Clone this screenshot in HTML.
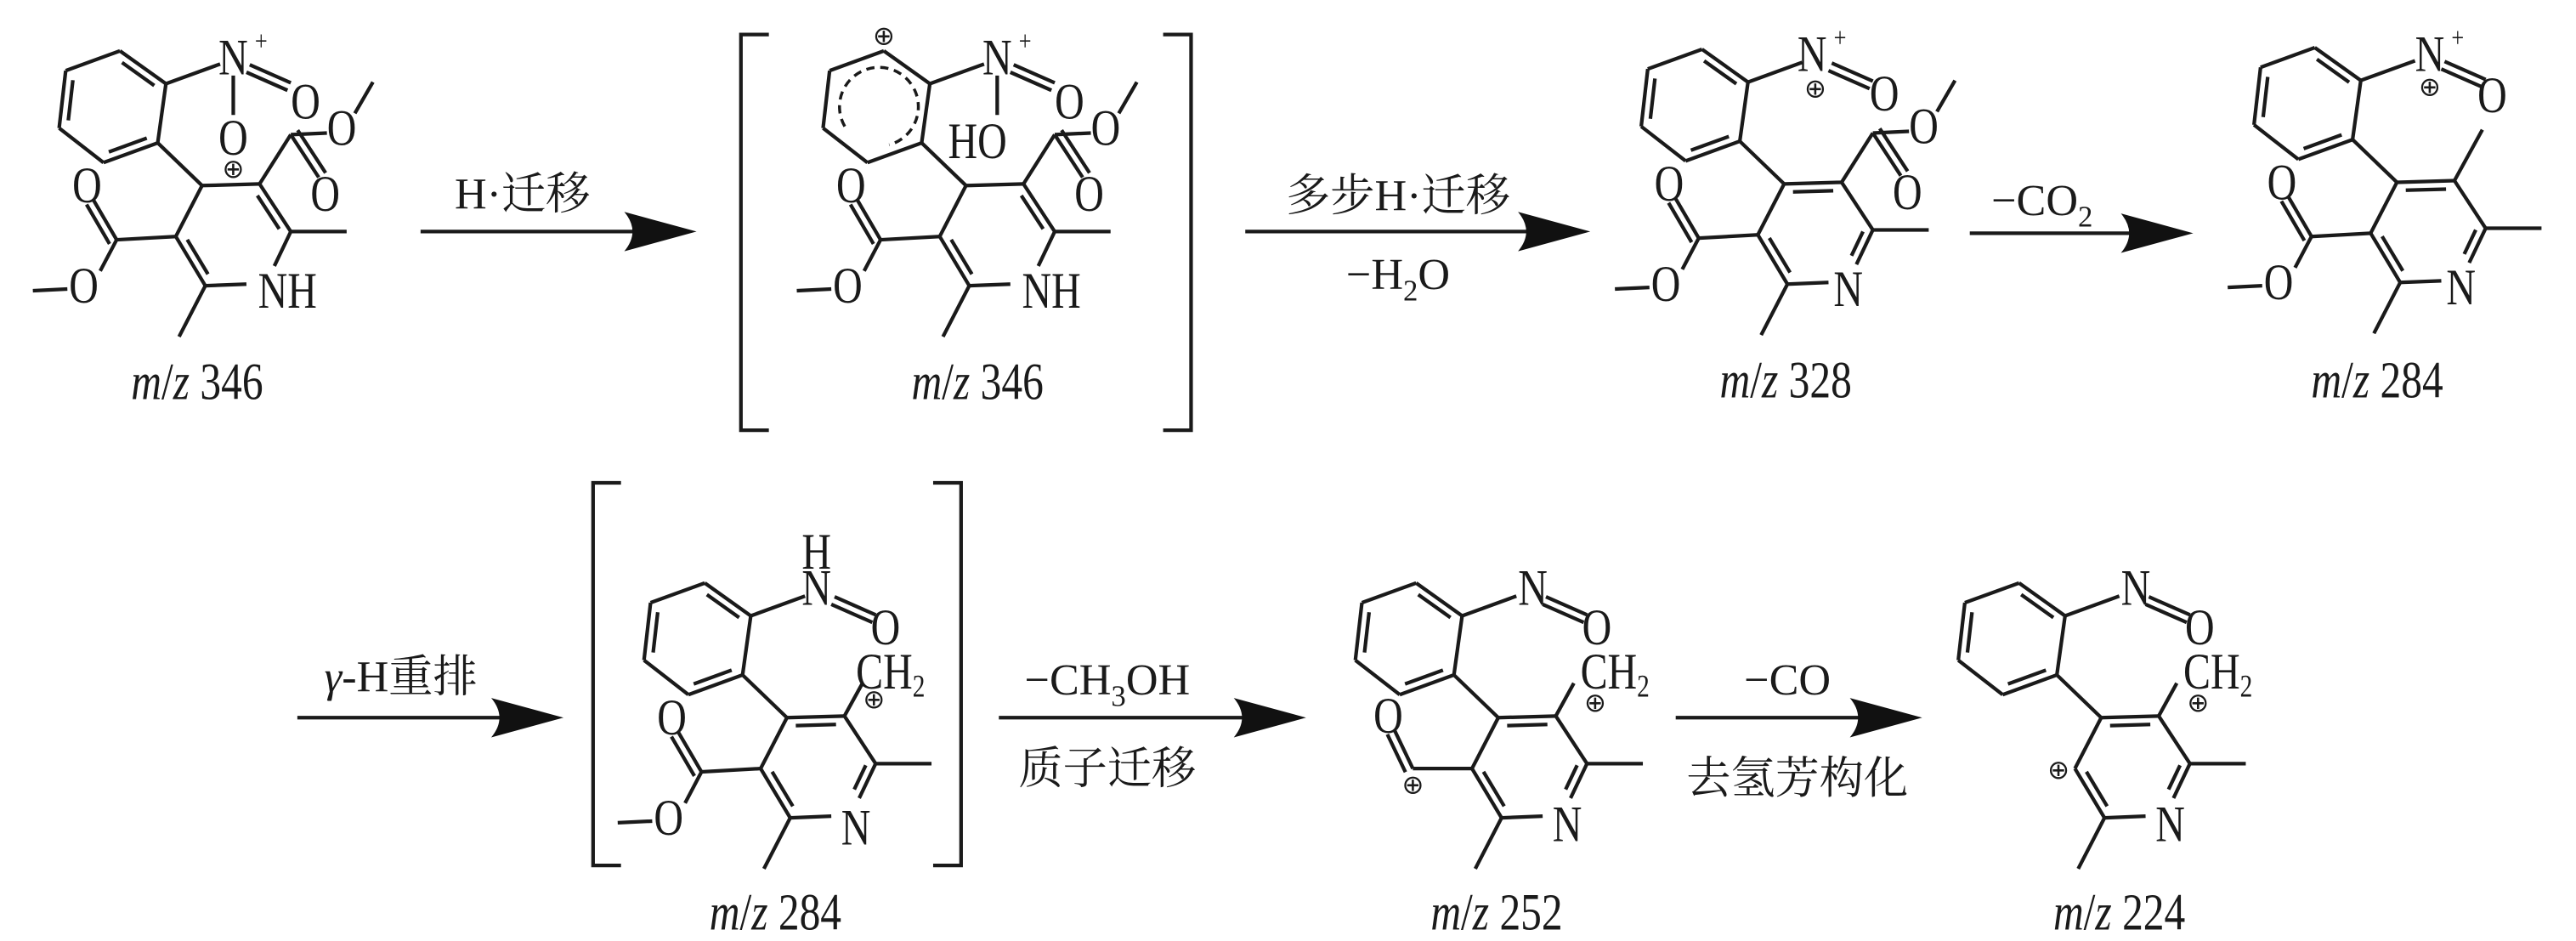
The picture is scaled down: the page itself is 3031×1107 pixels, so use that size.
<!DOCTYPE html>
<html><head><meta charset="utf-8">
<style>
html,body{margin:0;padding:0;background:#fff;}
svg{display:block;}
text{font-family:"Liberation Serif","Noto Serif CJK SC","Noto Sans CJK SC",serif;fill:#1a1a1a;}
.a{font-size:31px;text-anchor:middle;dominant-baseline:central;}
.c{font-size:16px;text-anchor:middle;dominant-baseline:central;font-family:"DejaVu Sans",sans-serif;}
.p{font-size:17px;text-anchor:middle;dominant-baseline:central;}
.m{font-size:32px;text-anchor:middle;}
.l{font-size:27px;text-anchor:middle;}
</style></head><body>
<svg id="s" width="3031" height="1107" viewBox="0 0 1568 573" preserveAspectRatio="none" xmlns="http://www.w3.org/2000/svg">
<g id="g" stroke="#1a1a1a" stroke-width="2.2" fill="none" stroke-linecap="butt"></g>

<!-- S1 -->
<text class="a" x="142" y="35">N</text><text class="p" x="159" y="25">+</text>
<text class="a" x="186" y="62">O</text><text class="a" x="142" y="84">O</text><text class="c" x="142" y="103">⊕</text>
<text class="a" x="53" y="113">O</text><text class="a" x="51" y="174">O</text>
<text class="a" x="198" y="118">O</text><text class="a" x="208" y="78">O</text>
<text class="a" x="175" y="177">NH</text>
<text class="m" x="120" y="243"><tspan font-style="italic">m</tspan>/<tspan font-style="italic">z</tspan> 346</text>

<!-- S2 -->
<text class="c" x="538" y="22">⊕</text>
<text class="a" x="607" y="35">N</text><text class="p" x="624" y="25">+</text>
<text class="a" x="651" y="62">O</text><text class="a" x="595" y="86">HO</text>
<text class="a" x="518" y="113">O</text><text class="a" x="516" y="174">O</text>
<text class="a" x="663" y="118">O</text><text class="a" x="673" y="78">O</text>
<text class="a" x="640" y="177">NH</text>
<text class="m" x="595" y="243"><tspan font-style="italic">m</tspan>/<tspan font-style="italic">z</tspan> 346</text>

<!-- S3 -->
<text class="a" x="1103" y="33">N</text><text class="p" x="1120" y="23">+</text>
<text class="c" x="1105" y="54">⊕</text><text class="a" x="1147" y="57">O</text>
<text class="a" x="1016" y="112">O</text><text class="a" x="1014" y="173">O</text>
<text class="a" x="1161" y="117">O</text><text class="a" x="1171" y="77">O</text>
<text class="a" x="1125" y="176">N</text>
<text class="m" x="1087" y="242"><tspan font-style="italic">m</tspan>/<tspan font-style="italic">z</tspan> 328</text>

<!-- S4 -->
<text class="a" x="1479" y="33">N</text><text class="p" x="1496" y="23">+</text>
<text class="c" x="1479" y="53">⊕</text><text class="a" x="1517" y="58">O</text>
<text class="a" x="1389" y="111">O</text><text class="a" x="1387" y="172">O</text>
<text class="a" x="1498" y="175">N</text>
<text class="m" x="1447" y="242"><tspan font-style="italic">m</tspan>/<tspan font-style="italic">z</tspan> 284</text>

<!-- S5 -->
<text class="a" x="497" y="336">H</text><text class="a" x="497" y="358">N</text>
<text class="a" x="539" y="382">O</text>
<text class="a" x="521" y="409" style="text-anchor:start">CH<tspan font-size="19" dy="9">2</tspan></text>
<text class="c" x="532" y="426">⊕</text>
<text class="a" x="409" y="437">O</text><text class="a" x="407" y="498">O</text>
<text class="a" x="521" y="504">N</text>
<text class="m" x="472" y="566"><tspan font-style="italic">m</tspan>/<tspan font-style="italic">z</tspan> 284</text>

<!-- S6 -->
<text class="a" x="933" y="358">N</text><text class="a" x="972" y="382">O</text>
<text class="a" x="962" y="409" style="text-anchor:start">CH<tspan font-size="19" dy="9">2</tspan></text>
<text class="c" x="971" y="428">⊕</text>
<text class="a" x="845" y="436">O</text><text class="c" x="860" y="478">⊕</text>
<text class="a" x="954" y="502">N</text>
<text class="m" x="911" y="566"><tspan font-style="italic">m</tspan>/<tspan font-style="italic">z</tspan> 252</text>

<!-- S7 -->
<text class="a" x="1300" y="358">N</text><text class="a" x="1339" y="382">O</text>
<text class="a" x="1329" y="409" style="text-anchor:start">CH<tspan font-size="19" dy="9">2</tspan></text>
<text class="c" x="1338" y="428">⊕</text>
<text class="c" x="1253" y="469">⊕</text>
<text class="a" x="1321" y="502">N</text>
<text class="m" x="1290" y="566"><tspan font-style="italic">m</tspan>/<tspan font-style="italic">z</tspan> 224</text>

<!-- arrow labels -->
<text class="l" x="318" y="127">H·迁移</text>
<text class="l" x="851" y="128">多步H·迁移</text>
<text class="l" x="851" y="176">−H<tspan font-size="18" dy="7">2</tspan><tspan dy="-7">O</tspan></text>
<text class="l" x="1243" y="131">−CO<tspan font-size="18" dy="7">2</tspan></text>
<text class="l" x="244" y="421"><tspan font-style="italic">γ</tspan>-H重排</text>
<text class="l" x="674" y="423">−CH<tspan font-size="18" dy="7">3</tspan><tspan dy="-7">OH</tspan></text>
<text class="l" x="674" y="477">质子迁移</text>
<text class="l" x="1088" y="423">−CO</text>
<text class="l" x="1094" y="483">去氢芳构化</text>
</svg>
<script>
const g=document.getElementById('g');const NS='http://www.w3.org/2000/svg';
function el(t,a){const e=document.createElementNS(NS,t);for(const k in a)e.setAttribute(k,a[k]);g.appendChild(e);return e;}
function L(x1,y1,x2,y2,ex){const e=el('line',{x1,y1,x2,y2});if(ex)for(const k in ex)e.setAttribute(k,ex[k]);}
function inner(a,b,c){const dx=b[0]-a[0],dy=b[1]-a[1],len=Math.hypot(dx,dy);let nx=-dy/len,ny=dx/len;
 const mx=(a[0]+b[0])/2-c[0],my=(a[1]+b[1])/2-c[1];if(nx*mx+ny*my>0){nx=-nx;ny=-ny;}
 const o=5,sh=0.15;L(a[0]+dx*sh+nx*o,a[1]+dy*sh+ny*o,b[0]-dx*sh+nx*o,b[1]-dy*sh+ny*o);}
function par(a,b,o){const dx=b[0]-a[0],dy=b[1]-a[1],len=Math.hypot(dx,dy);const nx=-dy/len*o,ny=dx/len*o;L(a[0]+nx,a[1]+ny,b[0]+nx,b[1]+ny);}
function S(X,Y,o){
 const P=(x,y)=>[X+x,Y+y];const Ln=(a,b)=>L(a[0],a[1],b[0],b[1]);
 const B=[P(-50,-82),P(-83,-70),P(-87,-35),P(-60,-14),P(-27,-26),P(-22,-62)];
 for(let i=0;i<6;i++)Ln(B[i],B[(i+1)%6]);
 const bc=P(-53,-48);
 if(o.dash){const cx=bc[0],cy=bc[1],r=24;
  const a1=150*Math.PI/180,a2=75*Math.PI/180;
  el('path',{d:`M${cx+r*Math.cos(a1)} ${cy+r*Math.sin(a1)} A${r} ${r} 0 1 1 ${cx+r*Math.cos(a2)} ${cy+r*Math.sin(a2)}`,'stroke-dasharray':'5 3.5','stroke-width':'1.8'});}
 else{inner(B[0],B[5],bc);inner(B[1],B[2],bc);inner(B[3],B[4],bc);}
 const C4=P(0,0),C3=P(35,-1),C2=P(54,28),C6=P(2,61),C5=P(-16,31),N1=P(44,49),N2=P(27,60),rc=P(18,30);
 Ln(B[4],C4);Ln(C4,C3);Ln(C3,C2);Ln(C2,N1);Ln(N2,C6);Ln(C6,C5);Ln(C5,C4);
 if(o.arom){inner(C4,C3,rc);inner(C2,N1,rc);inner(C6,C5,rc);}else{inner(C3,C2,rc);inner(C6,C5,rc);}
 Ln(C2,P(88,28));Ln(C6,P(-14,92));
 if(o.lest){Ln(C5,P(-52,33));Ln(P(-52,33),P(-66,9));par(P(-52,33),P(-66,9),-5);Ln(P(-52,33),P(-62,52));Ln(P(-82,63),P(-103,64));}
 if(o.ald){Ln(C5,P(-52,31));Ln(P(-52,31),P(-63,8));par(P(-52,31),P(-63,8),-5);}
 if(o.rest){Ln(C3,P(54,-31));Ln(P(54,-31),P(71,-5));par(P(54,-31),P(71,-5),-5);Ln(P(54,-31),P(76,-32));Ln(P(93,-44),P(104,-63));}
 if(o.rme)Ln(C3,P(52,-32));
 if(o.ch2)Ln(C3,P(46,-21));
 Ln(B[5],P(11,-74));
 Ln(P(27,-69),P(52,-58));par(P(27,-69),P(52,-58),-5);
 if(o.down)Ln(P(19,-67),P(19,-43));
}
S(123,113,{lest:1,rest:1,down:1});
S(588,113,{lest:1,rest:1,down:1,dash:1});
S(1086,112,{lest:1,rest:1,arom:1});
S(1459,111,{lest:1,rme:1,arom:1});
S(479,437,{lest:1,arom:1,ch2:1});
S(912,437,{ald:1,arom:1,ch2:1});
S(1279,437,{arom:1,ch2:1});
function A(x1,x2,y){L(x1,y,x2-30,y);el('path',{d:`M${x2} ${y} L${x2-44} ${y-12} Q${x2-34} ${y} ${x2-44} ${y+12} Z`,fill:'#111',stroke:'none'});}
A(256,424,141);A(758,968,141);A(1199,1335,142);A(181,343,437);A(608,795,437);A(1020,1170,437);
function Br(x,y1,y2,d){el('path',{d:`M${x+d} ${y1} H${x} V${y2} H${x+d}`});}
Br(451,21,262,17);Br(725,21,262,-17);Br(361,294,527,17);Br(585,294,527,-17);
document.querySelectorAll('svg text').forEach(t=>{if(t.classList.contains('c')||t.classList.contains('l'))return;const x=parseFloat(t.getAttribute('x'));t.setAttribute('transform',`translate(${x},0) scale(0.8,1) translate(${-x},0)`);});
</script>
</body></html>
